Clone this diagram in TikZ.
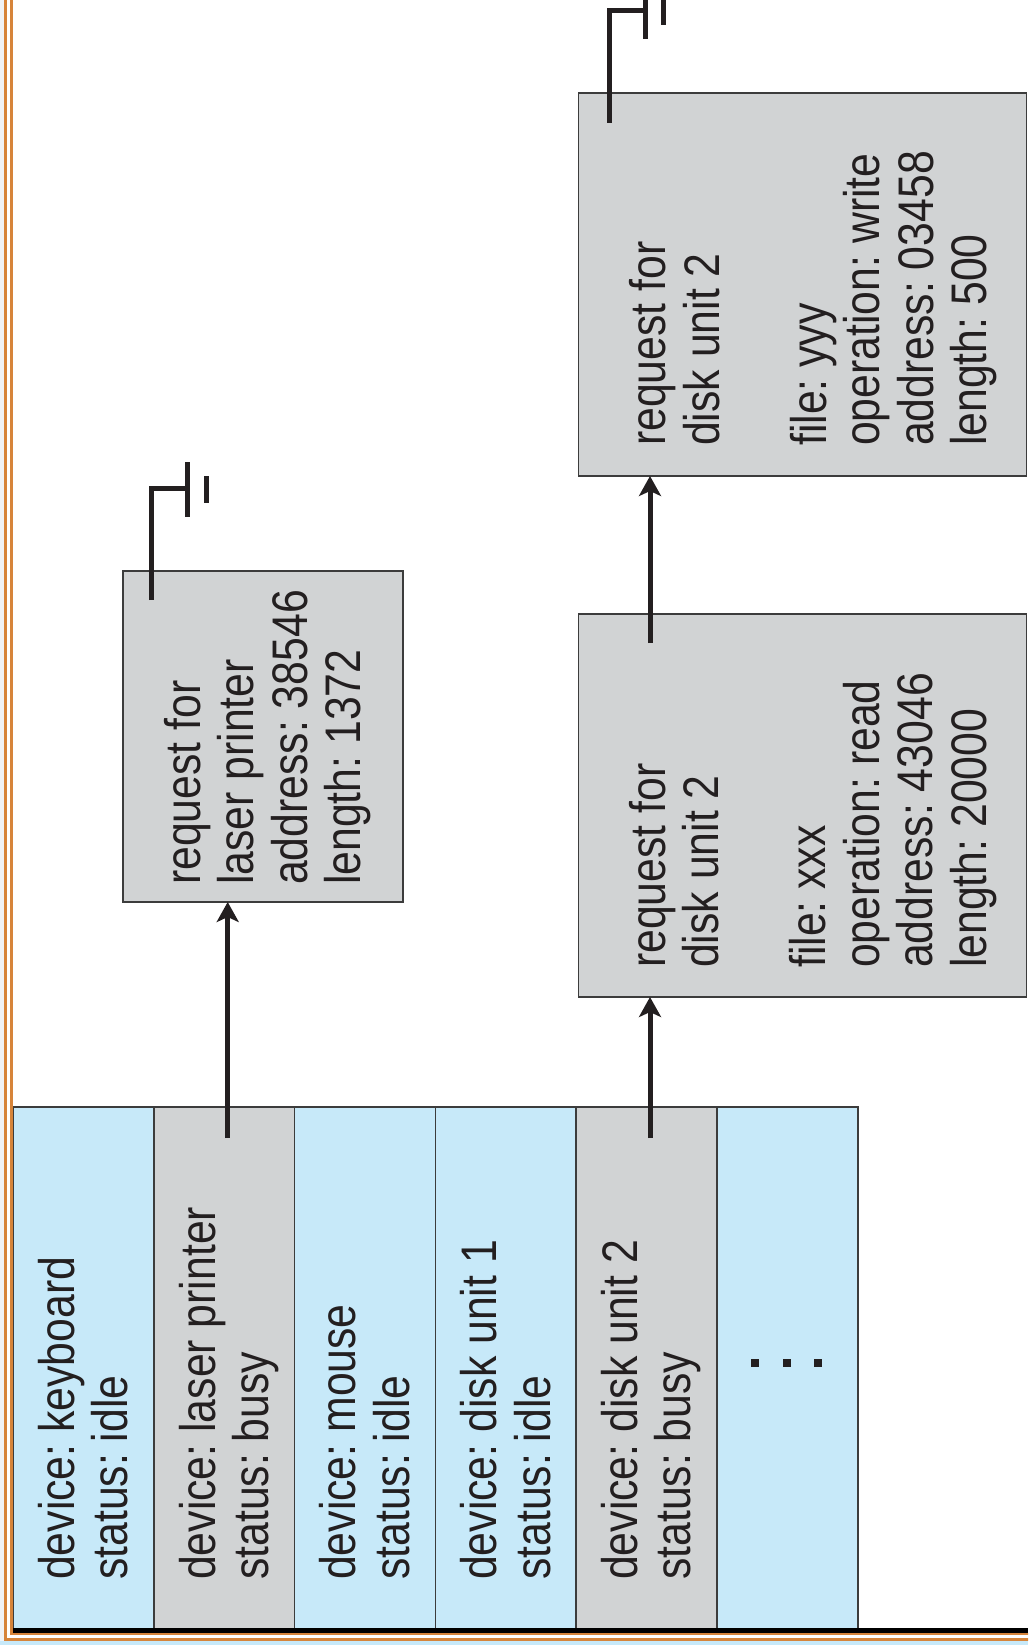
\documentclass[tikz,border=0pt]{standalone}
\usepackage{fontspec}
\setmainfont{Liberation Sans}[FakeStretch=0.855]
\usetikzlibrary{arrows.meta}
\definecolor{cellblue}{RGB}{199,233,249}
\definecolor{cellgray}{RGB}{209,211,212}
\definecolor{edge}{RGB}{60,60,60}
\definecolor{ink}{RGB}{35,31,32}
\definecolor{frameorange}{RGB}{214,132,58}
\definecolor{stripgray}{RGB}{240,243,247}
\frenchspacing
\begin{document}
\begin{tikzpicture}[x=1pt,y=-1pt,
  cellbox/.style={draw=edge, line width=1.6pt, minimum width=140.8pt, minimum height=523pt, inner sep=0pt, outer sep=0pt},
  reqbox/.style={draw=edge, line width=1.6pt, fill=cellgray, inner sep=0pt, outer sep=0pt},
  txt/.style={rotate=90, anchor=north west, inner sep=0pt, align=left, text=ink, font=\fontsize{50pt}{53.5pt}\selectfont\frenchspacing},
  link/.style={line width=5pt, draw=ink, -{Stealth[length=20pt,width=22pt,inset=5pt]}},
  gnd/.style={line width=5pt, draw=ink}
]
\useasboundingbox (0,0) rectangle (1028,1645);
\clip (0,0) rectangle (1028,1645);

% edge strips
\fill[stripgray] (0,0) rectangle (4,1645);
\fill[cellblue] (0,1641) rectangle (1028,1645);

% device status table
\node[cellbox, fill=cellblue] (kbd)   at (83.4,1368.5) {};
\node[cellbox, fill=cellgray] (laser) at (224.2,1368.5) {};
\node[cellbox, fill=cellblue] (mouse) at (365.0,1368.5) {};
\node[cellbox, fill=cellblue] (disk1) at (505.8,1368.5) {};
\node[cellbox, fill=cellgray] (disk2) at (646.6,1368.5) {};
\node[cellbox, fill=cellblue] (more)  at (787.4,1368.5) {};

% request boxes
\node[reqbox, minimum width=280pt, minimum height=331pt] (box1) at (263,736.5) {};
\node[reqbox, minimum width=448pt, minimum height=383pt] (box2) at (802.5,805.5) {};
\node[reqbox, minimum width=448pt, minimum height=383pt] (box3) at (802.5,284.5) {};

% texts
\node[txt] (tkbd)   at (36,1580)    {\rule{0pt}{38pt}device: keyboard\\status: idle};
\node[txt] (tlaser) at (176.8,1580) {\rule{0pt}{38pt}device: laser printer\\status: busy};
\node[txt] (tmouse) at (317.6,1580) {\rule{0pt}{38pt}device: mouse\\status: idle};
\node[txt] (tdisk1) at (458.4,1580) {\rule{0pt}{38pt}device: disk unit 1\\status: idle};
\node[txt] (tdisk2) at (599.2,1580) {\rule{0pt}{38pt}device: disk unit 2\\status: busy};

\node[txt] (tbox1) at (162,885) {\rule{0pt}{38pt}request for\\laser printer\\address: 38546\\length: 1372};
\node[txt] (tbox2) at (627,968) {\rule{0pt}{38pt}request for\\disk unit 2\\[53.5pt]file: xxx\\operation: read\\address: 43046\\length: 20000};
\node[txt] (tbox3) at (627.5,446) {\rule{0pt}{38pt}request for\\disk unit 2\\[53.5pt]file: yyy\\operation: write\\address: 03458\\length: 500};

% ellipsis
\fill[ink] (751,1359) rectangle (759,1367);
\fill[ink] (783,1359) rectangle (791,1367);
\fill[ink] (814,1359) rectangle (822,1367);

% connectors
\coordinate (la) at (227.7,1138);
\draw[link] (la) -- (la |- box1.south);
\coordinate (lc) at (650,1138);
\draw[link] (lc) -- (lc |- box2.south);
\coordinate (lb) at (650,643);
\draw[link] (lb) -- (lb |- box3.south);

% ground symbols
\coordinate (g1) at (151,600);
\coordinate (g1t) at (187,488);
\draw[gnd] (g1) |- (g1t);
\draw[gnd] (187,462) -- (187,517);
\draw[gnd] (206,476) -- (206,503);
\coordinate (g3) at (609,123);
\coordinate (g3t) at (645,11);
\draw[gnd] (g3) |- (g3t);
\draw[gnd] (645,-17) -- (645,39);
\draw[gnd] (663,-2) -- (663,25);

% frame
\draw[line width=4.6pt, black] (11,1630.4) -- (1028,1630.4);
\draw[frameorange, line width=2.6pt] (5.5,-2) -- (5.5,1639.3) -- (1030,1639.3);
\draw[frameorange, line width=2.6pt] (11.2,-2) -- (11.2,1634) -- (1030,1634);
\end{tikzpicture}
\end{document}
